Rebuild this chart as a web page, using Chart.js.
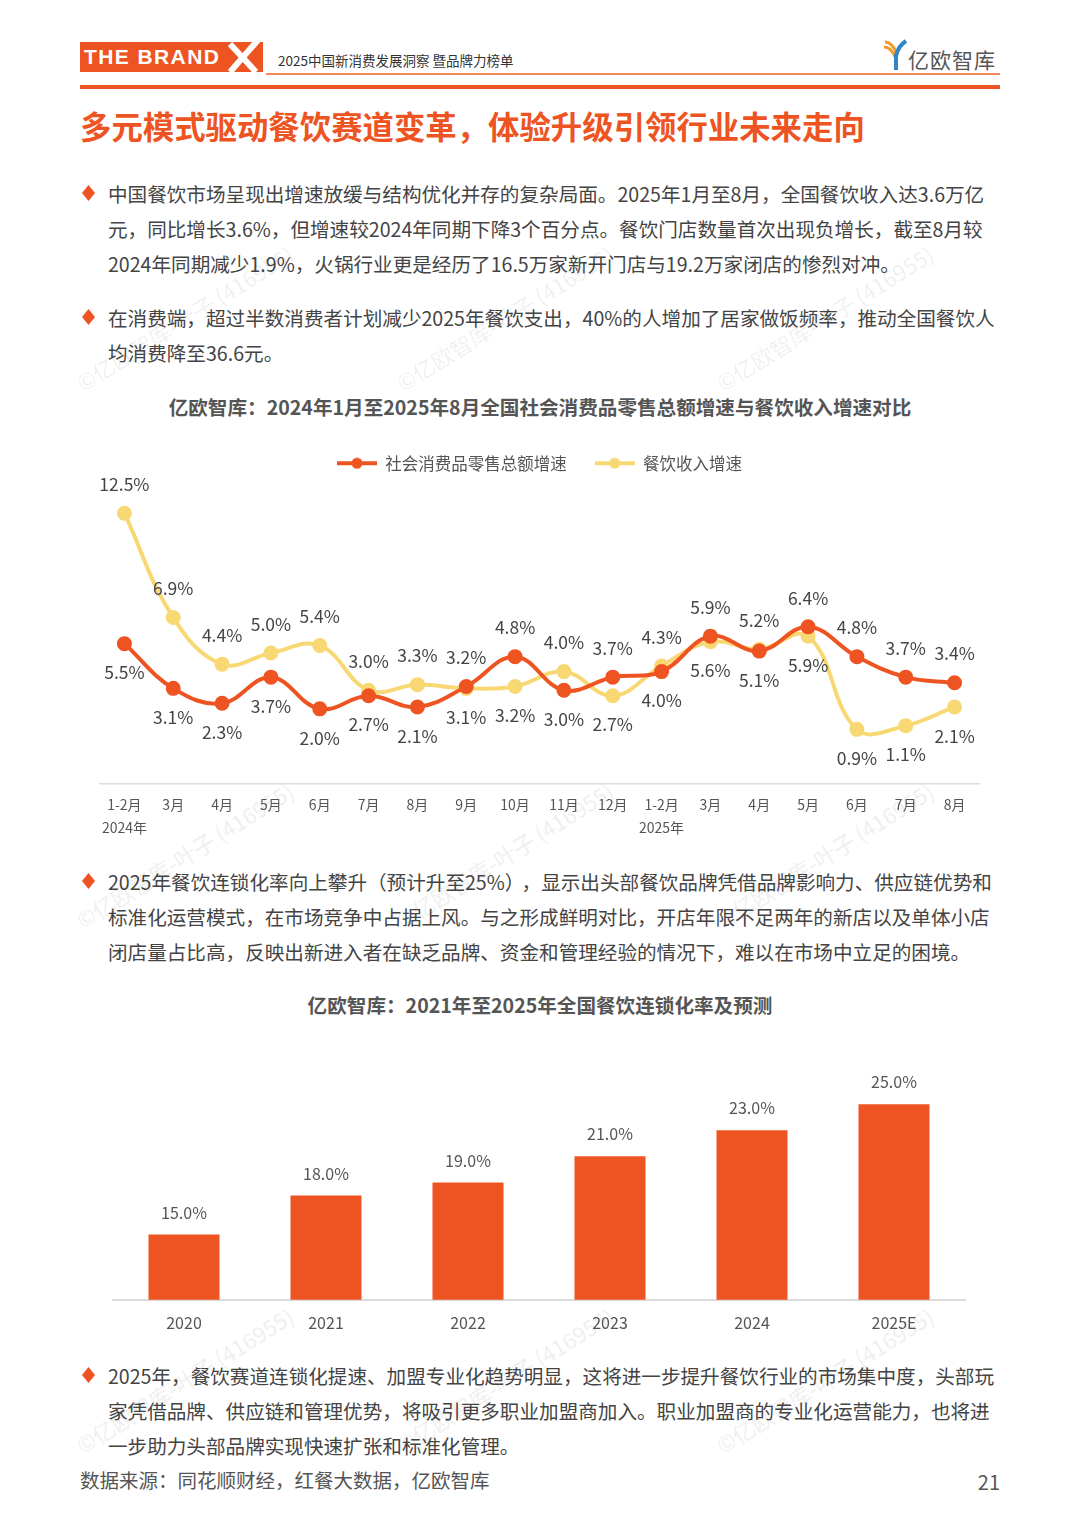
<!DOCTYPE html>
<html>
<head>
<meta charset="utf-8">
<script src="https://cdn.jsdelivr.net/npm/chart.js@4.4.1/dist/chart.umd.min.js"></script>
<style>
body{margin:0;width:1080px;height:1528px;position:relative;background:#fff;font-family:"Noto Sans CJK SC","Noto Sans",sans-serif;color:#444;overflow:hidden}
.para{position:absolute;left:108px;font-size:19.6px;line-height:35px;white-space:nowrap;color:#444}
.dia{position:absolute;left:82px;width:13px;height:16px;background:#EE5422;clip-path:polygon(50% 0,100% 50%,50% 100%,0 50%)}
.ctitle{position:absolute;left:0;width:1080px;text-align:center;font-size:19.6px;font-weight:bold;color:#555;line-height:30px}
.wm{position:absolute;font-size:22px;color:rgba(0,0,0,0.07);white-space:nowrap;transform:rotate(-32deg);transform-origin:left center}
</style>
</head>
<body>

<!-- header -->
<div style="position:absolute;left:80px;top:42px;width:183px;height:30px;background:#EE5422"></div>
<div style="position:absolute;left:84px;top:42px;height:30px;line-height:30px;font-family:'Liberation Sans',Arial,sans-serif;font-weight:bold;font-size:21px;letter-spacing:1.4px;color:#fff">THE BRAND</div>
<svg style="position:absolute;left:222px;top:38px" width="42" height="36">
  <line x1="8" y1="6" x2="34" y2="34" stroke="#fff" stroke-width="6"/>
  <line x1="36" y1="2" x2="8" y2="34" stroke="#fff" stroke-width="6"/>
</svg>
<div style="position:absolute;left:278px;top:50px;line-height:20px;font-size:13.5px;color:#333">2025中国新消费发展洞察 暨品牌力榜单</div>
<div style="position:absolute;left:266px;top:73px;width:734px;height:2px;background:#F08A5D"></div>
<div style="position:absolute;left:80px;top:85px;width:920px;height:4px;background:#EE5422"></div>
<svg style="position:absolute;left:882px;top:38px" width="26" height="32">
  <path d="M3,4 Q10,4 15,16" stroke="#F39A2C" stroke-width="3" fill="none"/>
  <path d="M2,9 Q9,9 13,19" stroke="#F39A2C" stroke-width="3" fill="none"/>
  <path d="M14,32 L14,18 Q16,8 24,3" stroke="#2E86C8" stroke-width="4" fill="none"/>
</svg>
<div style="position:absolute;left:908px;top:45px;line-height:28px;font-size:21px;color:#555;letter-spacing:1px">亿欧智库</div>

<!-- title -->
<div style="position:absolute;left:80px;top:106px;line-height:40px;font-size:31.4px;font-weight:bold;color:#EE5422">多元模式驱动餐饮赛道变革，体验升级引领行业未来走向</div>

<!-- bullets 1 & 2 -->
<div class="dia" style="top:185px"></div>
<div class="para" style="top:175.5px">中国餐饮市场呈现出增速放缓与结构优化并存的复杂局面。2025年1月至8月，全国餐饮收入达3.6万亿<br>元，同比增长3.6%，但增速较2024年同期下降3个百分点。餐饮门店数量首次出现负增长，截至8月较<br>2024年同期减少1.9%，火锅行业更是经历了16.5万家新开门店与19.2万家闭店的惨烈对冲。</div>
<div class="dia" style="top:309px"></div>
<div class="para" style="top:299.5px">在消费端，超过半数消费者计划减少2025年餐饮支出，40%的人增加了居家做饭频率，推动全国餐饮人<br>均消费降至36.6元。</div>

<div class="ctitle" style="top:392px">亿欧智库：2024年1月至2025年8月全国社会消费品零售总额增速与餐饮收入增速对比</div>

<div style="position:absolute;left:80px;top:427px;width:920px;height:425px">
  <canvas id="lineChart" width="920" height="425"></canvas>
</div>

<!-- bullet 3 -->
<div class="dia" style="top:873px"></div>
<div class="para" style="top:863.5px">2025年餐饮连锁化率向上攀升（预计升至25%）<span style="margin-left:7px"></span>，显示出头部餐饮品牌凭借品牌影响力、供应链优势和<br>标准化运营模式，在市场竞争中占据上风。与之形成鲜明对比，开店年限不足两年的新店以及单体小店<br>闭店量占比高，反映出新进入者在缺乏品牌、资金和管理经验的情况下，难以在市场中立足的困境。</div>

<div class="ctitle" style="top:990px">亿欧智库：2021年至2025年全国餐饮连锁化率及预测</div>

<div style="position:absolute;left:80px;top:1030px;width:920px;height:320px">
  <canvas id="barChart" width="920" height="320"></canvas>
</div>

<!-- bullet 4 -->
<div class="dia" style="top:1367px"></div>
<div class="para" style="top:1357.5px">2025年，餐饮赛道连锁化提速、加盟专业化趋势明显，这将进一步提升餐饮行业的市场集中度，头部玩<br>家凭借品牌、供应链和管理优势，将吸引更多职业加盟商加入。职业加盟商的专业化运营能力，也将进<br>一步助力头部品牌实现快速扩张和标准化管理。</div>

<div style="position:absolute;left:80px;top:1464px;line-height:32px;font-size:19.5px;color:#555">数据来源：同花顺财经，红餐大数据，亿欧智库</div>
<div style="position:absolute;right:80px;top:1466px;line-height:32px;font-size:20px;color:#555">21</div>

<!-- watermarks -->
<div class="wm" style="left:78px;top:368px">©亿欧智库-叶子 (416955)</div>
<div class="wm" style="left:398px;top:368px">©亿欧智库-叶子 (416955)</div>
<div class="wm" style="left:718px;top:368px">©亿欧智库-叶子 (416955)</div>
<div class="wm" style="left:78px;top:905px">©亿欧智库-叶子 (416955)</div>
<div class="wm" style="left:398px;top:905px">©亿欧智库-叶子 (416955)</div>
<div class="wm" style="left:718px;top:905px">©亿欧智库-叶子 (416955)</div>
<div class="wm" style="left:78px;top:1430px">©亿欧智库-叶子 (416955)</div>
<div class="wm" style="left:398px;top:1430px">©亿欧智库-叶子 (416955)</div>
<div class="wm" style="left:718px;top:1430px">©亿欧智库-叶子 (416955)</div>

<script>
// line chart data
const months = [["1-2月", "2024年"], "3月", "4月", "5月", "6月", "7月", "8月", "9月", "10月", "11月", "12月",
    ["1-2月", "2025年"], "3月", "4月", "5月", "6月", "7月", "8月"];
const retailGrowth = [5.5, 3.1, 2.3, 3.7, 2.0, 2.7, 2.1, 3.2, 4.8, 3.0, 3.7, 4.0, 5.9, 5.1, 6.4, 4.8, 3.7, 3.4];
const cateringGrowth = [12.5, 6.9, 4.4, 5.0, 5.4, 3.0, 3.3, 3.1, 3.2, 4.0, 2.7, 4.3, 5.6, 5.2, 5.9, 0.9, 1.1, 2.1];
// where each value label sits: a = above point, b = below
const retailLabelPos = ["b", "b", "b", "b", "b", "b", "b", "a", "a", "b", "a", "b", "a", "b", "a", "a", "a", "a"];
const cateringLabelPos = ["a", "a", "a", "a", "a", "a", "a", "b", "b", "a", "b", "a", "b", "a", "b", "b", "b", "b"];

// bar chart data
const years = ["2020", "2021", "2022", "2023", "2024", "2025E"];
const chainRate = [15.0, 18.0, 19.0, 21.0, 23.0, 25.0];

const RED = "#EE5422";
const YELLOW = "#F8D873";
const FONT = '"Noto Sans CJK SC", "Noto Sans", sans-serif';

// legend icon: short line with a dot in the middle
function legendIcon(color) {
    const c = document.createElement("canvas");
    c.width = 40;
    c.height = 12;
    const g = c.getContext("2d");
    g.strokeStyle = color;
    g.lineWidth = 4;
    g.beginPath();
    g.moveTo(0, 6);
    g.lineTo(40, 6);
    g.stroke();
    g.fillStyle = color;
    g.beginPath();
    g.arc(20, 6, 5.5, 0, Math.PI * 2);
    g.fill();
    return c;
}

// value labels drawn above / below points
const lineLabels = {
    id: "lineLabels",
    afterDatasetsDraw(chart) {
        const ctx = chart.ctx;
        ctx.save();
        ctx.font = "17.5px " + FONT;
        ctx.fillStyle = "#444";
        ctx.textAlign = "center";
        ctx.textBaseline = "middle";
        chart.data.datasets.forEach((ds, i) => {
            const meta = chart.getDatasetMeta(i);
            meta.data.forEach((pt, j) => {
                const dy = ds.labelPos[j] === "a" ? -29 : 29;
                ctx.fillText(ds.data[j].toFixed(1) + "%", pt.x, pt.y + dy);
            });
        });
        ctx.restore();
    }
};

const barLabels = {
    id: "barLabels",
    afterDatasetsDraw(chart) {
        const ctx = chart.ctx;
        ctx.save();
        ctx.font = "16px " + FONT;
        ctx.fillStyle = "#555";
        ctx.textAlign = "center";
        ctx.textBaseline = "middle";
        const meta = chart.getDatasetMeta(0);
        meta.data.forEach((bar, j) => {
            ctx.fillText(chainRate[j].toFixed(1) + "%", bar.x, bar.y - 22);
        });
        ctx.restore();
    }
};

new Chart(document.getElementById("lineChart").getContext("2d"), {
    type: "line",
    data: {
        labels: months,
        datasets: [
            {
                label: "社会消费品零售总额增速",
                data: retailGrowth,
                labelPos: retailLabelPos,
                borderColor: RED,
                backgroundColor: RED,
                pointBackgroundColor: RED,
                pointBorderColor: RED,
                borderWidth: 4,
                pointRadius: 5.5,
                tension: 0.4,
                fill: false,
                icon: legendIcon(RED)
            },
            {
                label: "餐饮收入增速",
                data: cateringGrowth,
                labelPos: cateringLabelPos,
                borderColor: YELLOW,
                backgroundColor: YELLOW,
                pointBackgroundColor: YELLOW,
                pointBorderColor: YELLOW,
                borderWidth: 4,
                pointRadius: 5.5,
                tension: 0.4,
                fill: false,
                icon: legendIcon(YELLOW)
            }
        ]
    },
    options: {
        responsive: false,
        animation: false,
        layout: { padding: { left: 20, right: 21, top: 0, bottom: 11 } },
        plugins: {
            legend: {
                display: true,
                position: "top",
                labels: {
                    usePointStyle: true,
                    pointStyleWidth: 40,
                    padding: 28,
                    color: "#555",
                    font: { size: 16.5, family: FONT },
                    generateLabels(chart) {
                        const items = Chart.defaults.plugins.legend.labels.generateLabels(chart);
                        items.forEach(item => {
                            item.pointStyle = chart.data.datasets[item.datasetIndex].icon;
                        });
                        return items;
                    }
                }
            },
            tooltip: { enabled: false }
        },
        scales: {
            x: {
                offset: true,
                grid: { display: false },
                border: { display: true, color: "#dcdcdc", width: 1.5 },
                ticks: {
                    color: "#555",
                    padding: 1,
                    autoSkip: false,
                    maxRotation: 0,
                    minRotation: 0,
                    font: { size: 14, family: FONT, lineHeight: 1.7 }
                }
            },
            y: {
                display: false,
                min: -2,
                max: 14.2
            }
        }
    },
    plugins: [lineLabels]
});

new Chart(document.getElementById("barChart").getContext("2d"), {
    type: "bar",
    data: {
        labels: years,
        datasets: [{
            label: "连锁化率",
            data: chainRate,
            backgroundColor: RED,
            barPercentage: 0.5,
            categoryPercentage: 1.0
        }]
    },
    options: {
        responsive: false,
        animation: false,
        layout: { padding: { left: 33, right: 35, top: 9, bottom: 11 } },
        plugins: {
            legend: { display: false },
            tooltip: { enabled: false }
        },
        scales: {
            x: {
                grid: { display: false },
                border: { display: true, color: "#dcdcdc", width: 2 },
                ticks: {
                    color: "#555",
                    padding: 6,
                    font: { size: 16, family: FONT }
                }
            },
            y: {
                display: false,
                min: 10,
                max: 30
            }
        }
    },
    plugins: [barLabels]
});
</script>
</body>
</html>
